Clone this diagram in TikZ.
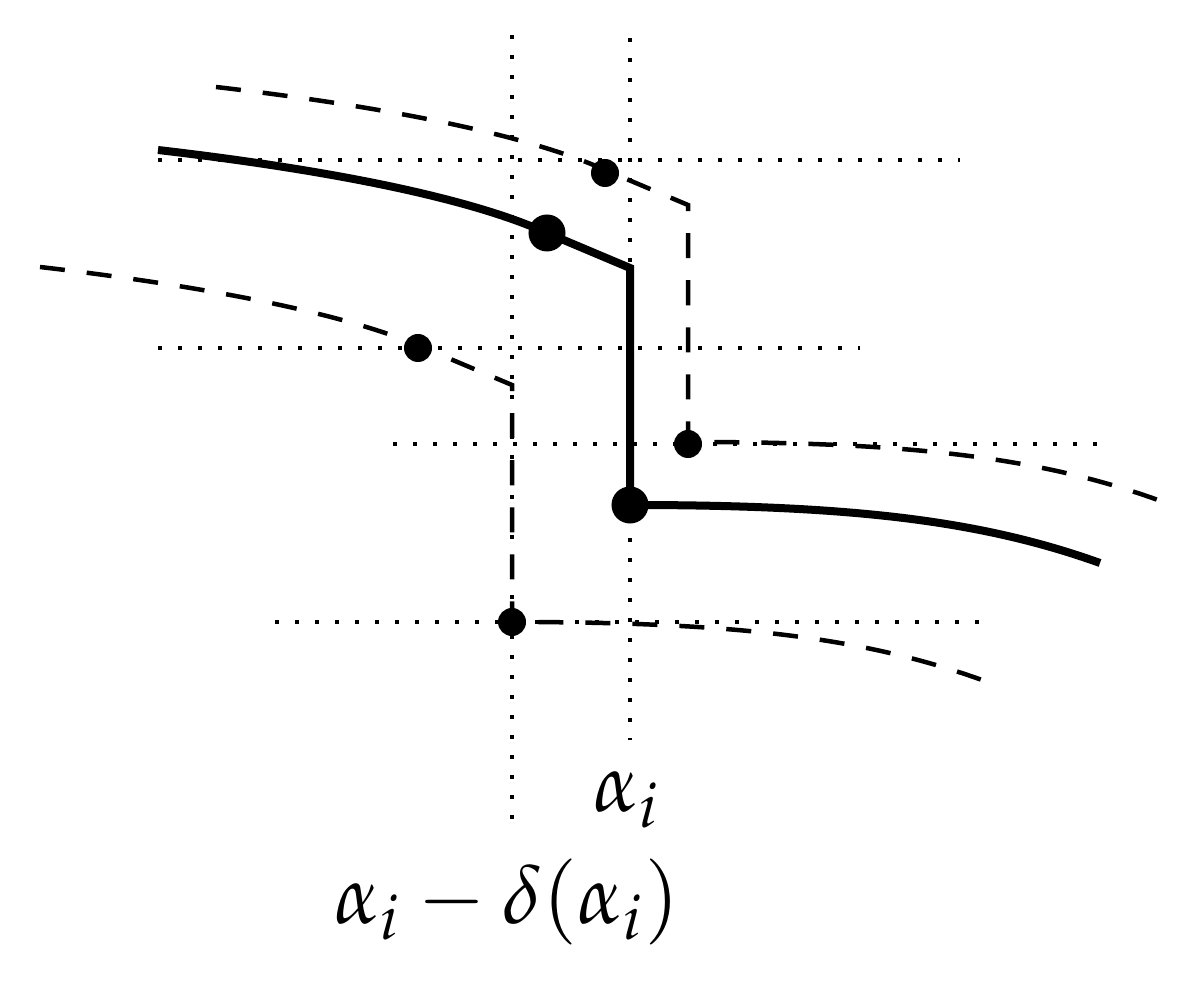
\documentclass[tikz,border=0pt]{standalone}
\usepackage{mathpazo}
\newcommand{\jumpcurve}{(158,150) .. controls (330,170) and (470,198) .. (547,233) -- (630,268) -- (630,505) .. controls (850,505) and (980,520) .. (1100,563)}
\begin{document}
\begin{tikzpicture}[x=0.01cm,y=-0.01cm,
  gridline/.style={line width=0.04cm, dash pattern=on 0.04cm off 0.16cm},
  maincurve/.style={line width=0.08cm},
  shiftcurve/.style={line width=0.045cm, dash pattern=on 0.25cm off 0.22cm},
  bigdot/.style={circle, fill, inner sep=0pt, minimum size=0.37cm},
  smalldot/.style={circle, fill, inner sep=0pt, minimum size=0.28cm},
  lab/.style={font=\fontsize{23.5}{28}\selectfont, inner sep=0pt}]
\useasboundingbox (0,0) rectangle (1188,989);
% grid lines
\draw[gridline] (512,35) -- (512,835);
\draw[gridline] (630,38) -- (630,740);
\draw[gridline] (158,160) -- (960,160);
\draw[gridline] (158,348) -- (860,348);
\draw[gridline] (393,444) -- (1100,444);
\draw[gridline] (275,622) -- (980,622);
% main curve
\draw[maincurve] \jumpcurve;
% shifted curves
\begin{scope}[shift={(58,-63)}]
\draw[shiftcurve] \jumpcurve;
\end{scope}
\begin{scope}[shift={(-118,117)}]
\draw[shiftcurve] \jumpcurve;
\end{scope}
% dots
\node[bigdot] (b1) at (547,233) {};
\node[bigdot] (b2) at (630,505) {};
\node[smalldot] (u1) at (605,173) {};
\node[smalldot] (u2) at (688,444) {};
\node[smalldot] (d1) at (418,348) {};
\node[smalldot] (d2) at (512,622) {};
% labels
\node[lab] (l1) at (627,800) {$\alpha_i$};
\node[lab] (l2) at (507,902) {$\alpha_i-\delta(\alpha_i)$};
\end{tikzpicture}
\end{document}
